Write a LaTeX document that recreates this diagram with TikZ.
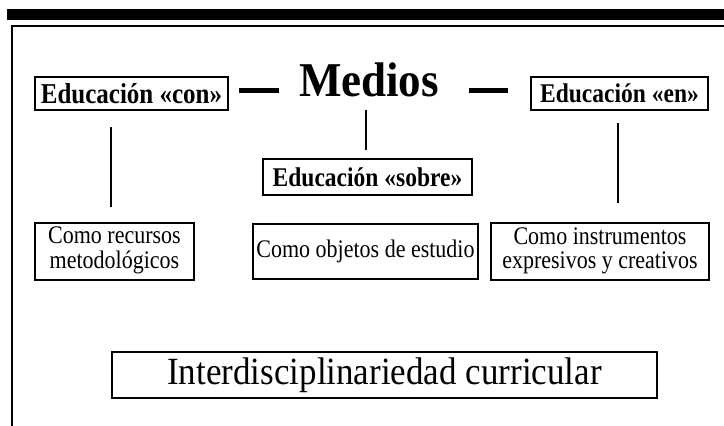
\documentclass[tikz,border=0pt]{standalone}
\usepackage{fontspec}
\usepackage{graphicx}
\setmainfont{Liberation Serif}
\newcommand{\vstr}[2]{\scalebox{1}[#1]{#2}}
\newcommand{\twolines}[2]{\begin{tabular}{@{}c@{}}#1\\#2\end{tabular}}
\begin{document}
\begin{tikzpicture}[x=1pt,y=-1pt,
  box/.style={draw=black, line width=1.3pt, inner sep=0pt, align=center},
  boldbox/.style={box, font=\fontsize{23.5}{26}\selectfont\bfseries},
  plainbox/.style={box, font=\fontsize{22}{21.5}\selectfont},
  link/.style={line width=1.3pt},
  dashbar/.style={line width=5pt}]
\useasboundingbox (0,0) rectangle (724,426);
% top bar and frame
\fill[black] (7,9) rectangle (724,20);
\draw[line width=1.5pt] (12,426) -- (12,26) -- (724,26);
% nodes
\node[font=\fontsize{45}{50}\selectfont\bfseries, inner sep=0pt, anchor=base] (medios) at (369,96) {\vstr{1.08}{Medios}};
\node[boldbox, font=\fontsize{25}{28}\selectfont\bfseries, minimum width=193pt, minimum height=33pt] (con) at (131.5,93.5) {\vstr{1.15}{Educación «con»}};
\node[boldbox, minimum width=177pt, minimum height=33pt] (en) at (619.5,93.5) {\vstr{1.15}{Educación «en»}};
\node[boldbox, minimum width=209pt, minimum height=36pt] (sobre) at (367.5,177) {\vstr{1.15}{Educación «sobre»}};
\node[plainbox, minimum width=159pt, minimum height=57pt] (recursos) at (114.5,251.5) {\vstr{1.15}{\twolines{Como recursos}{metodológicos}}};
\node[plainbox, minimum width=225pt, minimum height=55pt] (objetos) at (365.5,251.5) {\vstr{1.15}{Como objetos de estudio}};
\node[plainbox, minimum width=218pt, minimum height=57pt] (instr) at (600,251.5) {\vstr{1.15}{\twolines{Como instrumentos}{expresivos y creativos}}};
\node[box, font=\fontsize{35}{40}\selectfont, minimum width=545pt, minimum height=46pt] (inter) at (384.5,375) {\vstr{1.1}{Interdisciplinariedad curricular}};
% dashes beside Medios
\coordinate (dl1) at (239,90.5);
\coordinate (dr2) at (508,90.5);
\draw[dashbar] (dl1) -- (dl1 -| 279,0);
\draw[dashbar] (dr2 -| 469,0) -- (dr2);
% connectors
\coordinate (c1) at (111,127);
\coordinate (c2) at (111,207);
\coordinate (m1) at (366,110);
\coordinate (m2) at (366,150);
\coordinate (e1) at (618,123);
\coordinate (e2) at (618,203);
\draw[link] (c1) -- (c2);
\draw[link] (m1) -- (m2);
\draw[link] (e1) -- (e2);
\end{tikzpicture}
\end{document}
